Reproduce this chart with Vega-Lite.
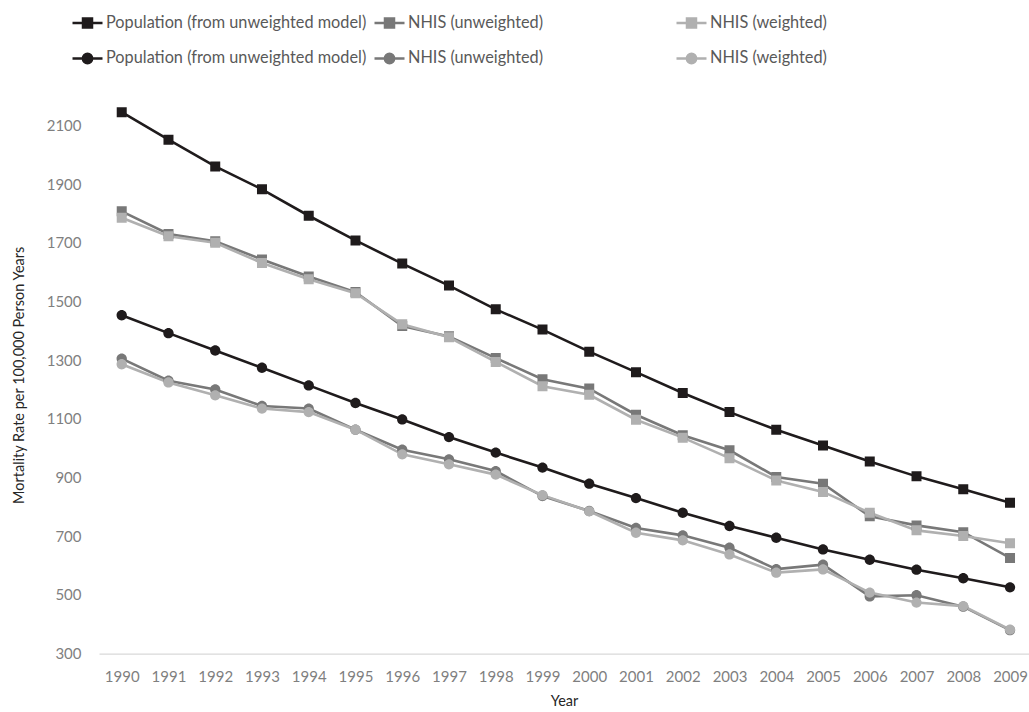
{
  "$schema": "https://vega.github.io/schema/vega-lite/v6.json",
  "width": 930,
  "height": 557.65,
  "autosize": {"type": "none"},
  "padding": {"left": 99, "top": 96, "right": 0, "bottom": 58},
  "background": "white",
  "config": {
    "view": {"stroke": null},
    "font": "Lato",
    "axis": {"grid": false, "ticks": false, "tickSize": 0, "labelFont": "Lato", "titleFont": "Lato", "labelColor": "#7f7f7f", "titleColor": "#262626", "labelFontSize": 15, "titleFontSize": 14.5, "titleFontWeight": "normal"},
    "legend": {"title": null, "orient": "none", "direction": "horizontal", "legendX": -28, "legendY": -90, "columns": 3, "gridAlign": "all", "columnPadding": 2, "rowPadding": 9, "symbolSize": 900, "symbolStrokeWidth": 2.5, "labelFontSize": 16.3, "labelFont": "Lato", "labelColor": "#595959", "labelOffset": 2, "labelLimit": 400}
  },
  "data": {
    "values": [
      {"year": 1990, "key": "Population (from unweighted model)|1", "rate": 2145},
      {"year": 1991, "key": "Population (from unweighted model)|1", "rate": 2051},
      {"year": 1992, "key": "Population (from unweighted model)|1", "rate": 1960},
      {"year": 1993, "key": "Population (from unweighted model)|1", "rate": 1882},
      {"year": 1994, "key": "Population (from unweighted model)|1", "rate": 1792},
      {"year": 1995, "key": "Population (from unweighted model)|1", "rate": 1708},
      {"year": 1996, "key": "Population (from unweighted model)|1", "rate": 1629},
      {"year": 1997, "key": "Population (from unweighted model)|1", "rate": 1554},
      {"year": 1998, "key": "Population (from unweighted model)|1", "rate": 1473},
      {"year": 1999, "key": "Population (from unweighted model)|1", "rate": 1404},
      {"year": 2000, "key": "Population (from unweighted model)|1", "rate": 1329},
      {"year": 2001, "key": "Population (from unweighted model)|1", "rate": 1259},
      {"year": 2002, "key": "Population (from unweighted model)|1", "rate": 1188},
      {"year": 2003, "key": "Population (from unweighted model)|1", "rate": 1123},
      {"year": 2004, "key": "Population (from unweighted model)|1", "rate": 1063},
      {"year": 2005, "key": "Population (from unweighted model)|1", "rate": 1009},
      {"year": 2006, "key": "Population (from unweighted model)|1", "rate": 955},
      {"year": 2007, "key": "Population (from unweighted model)|1", "rate": 904},
      {"year": 2008, "key": "Population (from unweighted model)|1", "rate": 860},
      {"year": 2009, "key": "Population (from unweighted model)|1", "rate": 814},
      {"year": 1990, "key": "NHIS (unweighted)|1", "rate": 1807},
      {"year": 1991, "key": "NHIS (unweighted)|1", "rate": 1730},
      {"year": 1992, "key": "NHIS (unweighted)|1", "rate": 1705},
      {"year": 1993, "key": "NHIS (unweighted)|1", "rate": 1643},
      {"year": 1994, "key": "NHIS (unweighted)|1", "rate": 1585},
      {"year": 1995, "key": "NHIS (unweighted)|1", "rate": 1532},
      {"year": 1996, "key": "NHIS (unweighted)|1", "rate": 1416},
      {"year": 1997, "key": "NHIS (unweighted)|1", "rate": 1381},
      {"year": 1998, "key": "NHIS (unweighted)|1", "rate": 1307},
      {"year": 1999, "key": "NHIS (unweighted)|1", "rate": 1235},
      {"year": 2000, "key": "NHIS (unweighted)|1", "rate": 1203},
      {"year": 2001, "key": "NHIS (unweighted)|1", "rate": 1114},
      {"year": 2002, "key": "NHIS (unweighted)|1", "rate": 1044},
      {"year": 2003, "key": "NHIS (unweighted)|1", "rate": 993},
      {"year": 2004, "key": "NHIS (unweighted)|1", "rate": 902},
      {"year": 2005, "key": "NHIS (unweighted)|1", "rate": 879},
      {"year": 2006, "key": "NHIS (unweighted)|1", "rate": 768},
      {"year": 2007, "key": "NHIS (unweighted)|1", "rate": 737},
      {"year": 2008, "key": "NHIS (unweighted)|1", "rate": 714},
      {"year": 2009, "key": "NHIS (unweighted)|1", "rate": 626},
      {"year": 1990, "key": "NHIS (weighted)|1", "rate": 1785},
      {"year": 1991, "key": "NHIS (weighted)|1", "rate": 1722},
      {"year": 1992, "key": "NHIS (weighted)|1", "rate": 1700},
      {"year": 1993, "key": "NHIS (weighted)|1", "rate": 1631},
      {"year": 1994, "key": "NHIS (weighted)|1", "rate": 1576},
      {"year": 1995, "key": "NHIS (weighted)|1", "rate": 1528},
      {"year": 1996, "key": "NHIS (weighted)|1", "rate": 1422},
      {"year": 1997, "key": "NHIS (weighted)|1", "rate": 1378},
      {"year": 1998, "key": "NHIS (weighted)|1", "rate": 1294},
      {"year": 1999, "key": "NHIS (weighted)|1", "rate": 1211},
      {"year": 2000, "key": "NHIS (weighted)|1", "rate": 1182},
      {"year": 2001, "key": "NHIS (weighted)|1", "rate": 1097},
      {"year": 2002, "key": "NHIS (weighted)|1", "rate": 1036},
      {"year": 2003, "key": "NHIS (weighted)|1", "rate": 966},
      {"year": 2004, "key": "NHIS (weighted)|1", "rate": 890},
      {"year": 2005, "key": "NHIS (weighted)|1", "rate": 851},
      {"year": 2006, "key": "NHIS (weighted)|1", "rate": 780},
      {"year": 2007, "key": "NHIS (weighted)|1", "rate": 720},
      {"year": 2008, "key": "NHIS (weighted)|1", "rate": 701},
      {"year": 2009, "key": "NHIS (weighted)|1", "rate": 676},
      {"year": 1990, "key": "Population (from unweighted model)|2", "rate": 1453},
      {"year": 1991, "key": "Population (from unweighted model)|2", "rate": 1392},
      {"year": 1992, "key": "Population (from unweighted model)|2", "rate": 1333},
      {"year": 1993, "key": "Population (from unweighted model)|2", "rate": 1274},
      {"year": 1994, "key": "Population (from unweighted model)|2", "rate": 1214},
      {"year": 1995, "key": "Population (from unweighted model)|2", "rate": 1154},
      {"year": 1996, "key": "Population (from unweighted model)|2", "rate": 1098},
      {"year": 1997, "key": "Population (from unweighted model)|2", "rate": 1038},
      {"year": 1998, "key": "Population (from unweighted model)|2", "rate": 985},
      {"year": 1999, "key": "Population (from unweighted model)|2", "rate": 934},
      {"year": 2000, "key": "Population (from unweighted model)|2", "rate": 879},
      {"year": 2001, "key": "Population (from unweighted model)|2", "rate": 830},
      {"year": 2002, "key": "Population (from unweighted model)|2", "rate": 780},
      {"year": 2003, "key": "Population (from unweighted model)|2", "rate": 735},
      {"year": 2004, "key": "Population (from unweighted model)|2", "rate": 695},
      {"year": 2005, "key": "Population (from unweighted model)|2", "rate": 655},
      {"year": 2006, "key": "Population (from unweighted model)|2", "rate": 620},
      {"year": 2007, "key": "Population (from unweighted model)|2", "rate": 586},
      {"year": 2008, "key": "Population (from unweighted model)|2", "rate": 557},
      {"year": 2009, "key": "Population (from unweighted model)|2", "rate": 526},
      {"year": 1990, "key": "NHIS (unweighted)|2", "rate": 1305},
      {"year": 1991, "key": "NHIS (unweighted)|2", "rate": 1230},
      {"year": 1992, "key": "NHIS (unweighted)|2", "rate": 1200},
      {"year": 1993, "key": "NHIS (unweighted)|2", "rate": 1144},
      {"year": 1994, "key": "NHIS (unweighted)|2", "rate": 1135},
      {"year": 1995, "key": "NHIS (unweighted)|2", "rate": 1063},
      {"year": 1996, "key": "NHIS (unweighted)|2", "rate": 995},
      {"year": 1997, "key": "NHIS (unweighted)|2", "rate": 962},
      {"year": 1998, "key": "NHIS (unweighted)|2", "rate": 922},
      {"year": 1999, "key": "NHIS (unweighted)|2", "rate": 837},
      {"year": 2000, "key": "NHIS (unweighted)|2", "rate": 786},
      {"year": 2001, "key": "NHIS (unweighted)|2", "rate": 728},
      {"year": 2002, "key": "NHIS (unweighted)|2", "rate": 703},
      {"year": 2003, "key": "NHIS (unweighted)|2", "rate": 661},
      {"year": 2004, "key": "NHIS (unweighted)|2", "rate": 588},
      {"year": 2005, "key": "NHIS (unweighted)|2", "rate": 603},
      {"year": 2006, "key": "NHIS (unweighted)|2", "rate": 495},
      {"year": 2007, "key": "NHIS (unweighted)|2", "rate": 499},
      {"year": 2008, "key": "NHIS (unweighted)|2", "rate": 460},
      {"year": 2009, "key": "NHIS (unweighted)|2", "rate": 380},
      {"year": 1990, "key": "NHIS (weighted)|2", "rate": 1286},
      {"year": 1991, "key": "NHIS (weighted)|2", "rate": 1224},
      {"year": 1992, "key": "NHIS (weighted)|2", "rate": 1180},
      {"year": 1993, "key": "NHIS (weighted)|2", "rate": 1135},
      {"year": 1994, "key": "NHIS (weighted)|2", "rate": 1123},
      {"year": 1995, "key": "NHIS (weighted)|2", "rate": 1063},
      {"year": 1996, "key": "NHIS (weighted)|2", "rate": 979},
      {"year": 1997, "key": "NHIS (weighted)|2", "rate": 945},
      {"year": 1998, "key": "NHIS (weighted)|2", "rate": 910},
      {"year": 1999, "key": "NHIS (weighted)|2", "rate": 840},
      {"year": 2000, "key": "NHIS (weighted)|2", "rate": 785},
      {"year": 2001, "key": "NHIS (weighted)|2", "rate": 712},
      {"year": 2002, "key": "NHIS (weighted)|2", "rate": 686},
      {"year": 2003, "key": "NHIS (weighted)|2", "rate": 638},
      {"year": 2004, "key": "NHIS (weighted)|2", "rate": 576},
      {"year": 2005, "key": "NHIS (weighted)|2", "rate": 587},
      {"year": 2006, "key": "NHIS (weighted)|2", "rate": 508},
      {"year": 2007, "key": "NHIS (weighted)|2", "rate": 474},
      {"year": 2008, "key": "NHIS (weighted)|2", "rate": 462},
      {"year": 2009, "key": "NHIS (weighted)|2", "rate": 382}
    ]
  },
  "encoding": {
    "x": {
      "field": "year", "type": "quantitative",
      "scale": {"domain": [1989.514, 2009.406], "nice": false, "zero": false},
      "axis": {"title": "Year", "values": [1990,1991,1992,1993,1994,1995,1996,1997,1998,1999,2000,2001,2002,2003,2004,2005,2006,2007,2008,2009], "format": "d", "domain": true, "domainColor": "#d9d9d9", "domainWidth": 1.2, "labelPadding": 16, "titlePadding": 10, "labelFlush": false, "labelOverlap": false}
    },
    "y": {
      "field": "rate", "type": "quantitative",
      "scale": {"domain": [300, 2200], "nice": false, "zero": false},
      "axis": {"title": "Mortality Rate per 100,000 Person Years", "values": [300,500,700,900,1100,1300,1500,1700,1900,2100], "format": "d", "domain": false, "labelPadding": 18, "titlePadding": 20}
    }
  },
  "layer": [
    {
      "mark": {"type": "line", "strokeWidth": 2.6},
      "encoding": {
        "stroke": {
          "field": "key", "type": "nominal",
          "scale": {
            "domain": ["Population (from unweighted model)|1", "NHIS (unweighted)|1", "NHIS (weighted)|1", "Population (from unweighted model)|2", "NHIS (unweighted)|2", "NHIS (weighted)|2"],
            "range": ["#1f1b1c", "#787878", "#b0b0b0", "#1f1b1c", "#787878", "#b0b0b0"]
          },
          "legend": {"labelExpr": "slice(datum.label, 0, indexof(datum.label, '|'))"}
        }
      }
    },
    {
      "mark": {"type": "point", "filled": true, "opacity": 1, "size": 1111},
      "encoding": {
        "color": {
          "field": "key", "type": "nominal",
          "scale": {
            "domain": ["Population (from unweighted model)|1", "NHIS (unweighted)|1", "NHIS (weighted)|1", "Population (from unweighted model)|2", "NHIS (unweighted)|2", "NHIS (weighted)|2"],
            "range": ["#1f1b1c", "#787878", "#b0b0b0", "#1f1b1c", "#787878", "#b0b0b0"]
          },
          "legend": {"labelExpr": "slice(datum.label, 0, indexof(datum.label, '|'))"}
        },
        "shape": {
          "field": "key", "type": "nominal",
          "scale": {
            "domain": ["Population (from unweighted model)|1", "NHIS (unweighted)|1", "NHIS (weighted)|1", "Population (from unweighted model)|2", "NHIS (unweighted)|2", "NHIS (weighted)|2"],
            "range": ["M-1,0H1M-0.3,-0.3H0.3V0.3H-0.3Z", "M-1,0H1M-0.3,-0.3H0.3V0.3H-0.3Z", "M-1,0H1M-0.3,-0.3H0.3V0.3H-0.3Z", "M-1,0H1M-0.31,0A0.31,0.31,0,1,0,0.31,0A0.31,0.31,0,1,0,-0.31,0Z", "M-1,0H1M-0.31,0A0.31,0.31,0,1,0,0.31,0A0.31,0.31,0,1,0,-0.31,0Z", "M-1,0H1M-0.31,0A0.31,0.31,0,1,0,0.31,0A0.31,0.31,0,1,0,-0.31,0Z"]
          },
          "legend": {"labelExpr": "slice(datum.label, 0, indexof(datum.label, '|'))"}
        }
      }
    }
  ]
}
